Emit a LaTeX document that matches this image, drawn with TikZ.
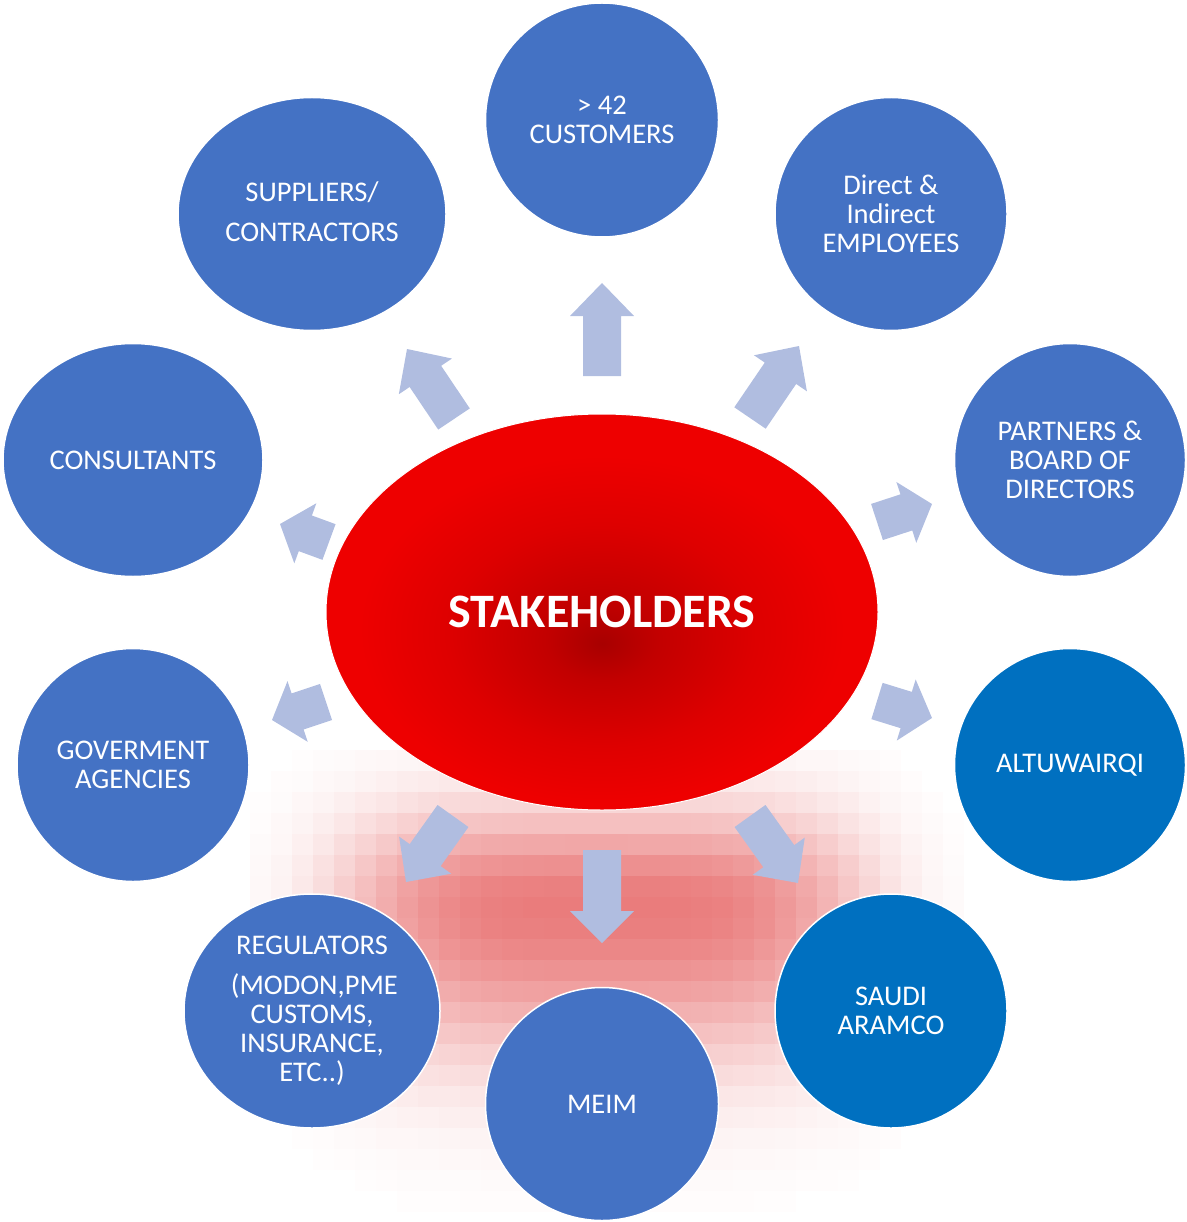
\documentclass[tikz,border=0pt]{standalone}
\usepackage{fontspec}
\setmainfont{Carlito}
\usetikzlibrary{shapes.geometric,calc}
\definecolor{bubblue}{HTML}{4472C4}
\definecolor{bubdark}{HTML}{0070C0}
\definecolor{arrowcol}{HTML}{B0BDE0}
\definecolor{glowred}{HTML}{D81010}
\definecolor{sc1}{HTML}{A80000}
\definecolor{sc2}{HTML}{C20000}
\definecolor{sc3}{HTML}{DE0000}
\definecolor{sc4}{HTML}{EE0000}
\pgfdeclareradialshading{stakeshade}{\pgfpoint{0bp}{-4bp}}{color(0bp)=(sc1); color(5bp)=(sc2); color(14bp)=(sc3); color(22bp)=(sc4); color(50bp)=(sc4)}
\tikzset{
  bub/.style={ellipse, fill=bubblue, draw=white, line width=1.5pt, inner sep=0pt},
  darkbub/.style={bub, fill=bubdark},
  lbl/.style={text=white, align=center, inner sep=0pt, font=\fontsize{28.5}{29}\selectfont},
  arrowshape/.style={fill=arrowcol},
}
\newcommand\blockarrow[3]{%
  \coordinate (hb) at ($(#2)!#3!(#1)$);
  \fill[arrowshape] ($(#1)!19pt!90:(#2)$) -- ($(hb)!19pt!90:(#2)$) -- ($(hb)!32pt!90:(#2)$)
    -- (#2) -- ($(hb)!32pt!-90:(#2)$) -- ($(hb)!19pt!-90:(#2)$) -- ($(#1)!19pt!-90:(#2)$) -- cycle;
}
\begin{document}
\begin{tikzpicture}[x=1pt,y=-1pt]
\useasboundingbox (0,0) rectangle (1186,1222);
% pixelated reflection glow
\foreach \i in {0,...,33}{
  \foreach \j in {0,...,21}{
    \pgfmathsetmacro\cx{250+21*\i+10.5}
    \pgfmathsetmacro\cy{750+21*\j+10.5}
    \pgfmathsetmacro\dx{(\cx-602)/260}
    \pgfmathsetmacro\sy{\cy<905 ? 95 : 150}
    \pgfmathsetmacro\dy{(\cy-905)/\sy}
    \pgfmathsetmacro\al{0.55*exp(-\dx*\dx*\dx*\dx)*exp(-\dy*\dy)}
    \pgfmathparse{\al>0.008 ? 1 : 0}
    \ifnum\pgfmathresult=1
      \fill[glowred, fill opacity=\al] (\cx-10.5,\cy-10.5) rectangle (\cx+10.5,\cy+10.5);
    \fi
  }
}
% central ellipse
\node[ellipse, minimum width=552pt, minimum height=396pt, shading=stakeshade, draw=white, line width=1pt] (stake) at (602,612) {};
\node[text=white, font=\fontsize{48}{50}\selectfont\bfseries, inner sep=0pt] (stake-t) at (stake) {STAKEHOLDERS};
% circles
\node[bub, minimum width=233pt, minimum height=234pt] (cust) at (602,120) {};
\node[bub, minimum width=268pt, minimum height=233pt] (supp) at (312,214) {};
\node[bub, minimum width=232pt, minimum height=233pt] (empl) at (891,214) {};
\node[bub, minimum width=260pt, minimum height=233pt] (cons) at (133,460) {};
\node[bub, minimum width=231pt, minimum height=233pt] (part) at (1070,460) {};
\node[bub, minimum width=232pt, minimum height=233pt] (gov) at (133,765) {};
\node[darkbub, minimum width=231pt, minimum height=233pt] (altu) at (1070,765) {};
\node[bub, minimum width=256pt, minimum height=234pt] (reg) at (312,1011) {};
\node[bub, minimum width=233pt, minimum height=233pt] (meim) at (602,1104) {};
\node[darkbub, minimum width=232pt, minimum height=234pt] (aram) at (891,1011) {};
% labels
\node[lbl] (cust-t) at (cust) {> 42\\CUSTOMERS};
\node[lbl] (supp-t) at ($(supp)+(0,-2)$) {SUPPLIERS/\\[11pt]CONTRACTORS};
\node[lbl] (empl-t) at (empl) {Direct \&\\Indirect\\EMPLOYEES};
\node[lbl] (cons-t) at (cons) {CONSULTANTS};
\node[lbl] (part-t) at (part) {PARTNERS \&\\BOARD OF\\DIRECTORS};
\node[lbl] (gov-t) at (gov) {GOVERMENT\\AGENCIES};
\node[lbl] (altu-t) at (altu) {ALTUWAIRQI};
\node[lbl] (reg-t) at (reg) {REGULATORS\\[11pt]\,(MODON,PME\\CUSTOMS,\\INSURANCE,\\ETC..)};
\node[lbl] (meim-t) at (meim) {MEIM};
\node[lbl] (aram-t) at (aram) {SAUDI\\ARAMCO};
% arrows
\coordinate (a1s) at (602,376); \coordinate (a1e) at (602,283);
\coordinate (a2s) at (454,419); \coordinate (a2e) at (407,349);
\coordinate (a3s) at (750,418); \coordinate (a3e) at (799,346);
\coordinate (a4s) at (329,542); \coordinate (a4e) at (280,524);
\coordinate (a5s) at (326,702); \coordinate (a5e) at (272,720);
\coordinate (a6s) at (877,522); \coordinate (a6e) at (932,504);
\coordinate (a7s) at (877,701); \coordinate (a7e) at (932,718);
\coordinate (a8s) at (453,816); \coordinate (a8e) at (406,882);
\coordinate (a9s) at (602,850); \coordinate (a9e) at (602,943);
\coordinate (a10s) at (750,816); \coordinate (a10e) at (798,883);
\blockarrow{a1s}{a1e}{33pt}
\blockarrow{a2s}{a2e}{33pt}
\blockarrow{a3s}{a3e}{33pt}
\blockarrow{a4s}{a4e}{27pt}
\blockarrow{a5s}{a5e}{27pt}
\blockarrow{a6s}{a6e}{27pt}
\blockarrow{a7s}{a7e}{27pt}
\blockarrow{a8s}{a8e}{33pt}
\blockarrow{a9s}{a9e}{32pt}
\blockarrow{a10s}{a10e}{33pt}
\end{tikzpicture}
\end{document}
